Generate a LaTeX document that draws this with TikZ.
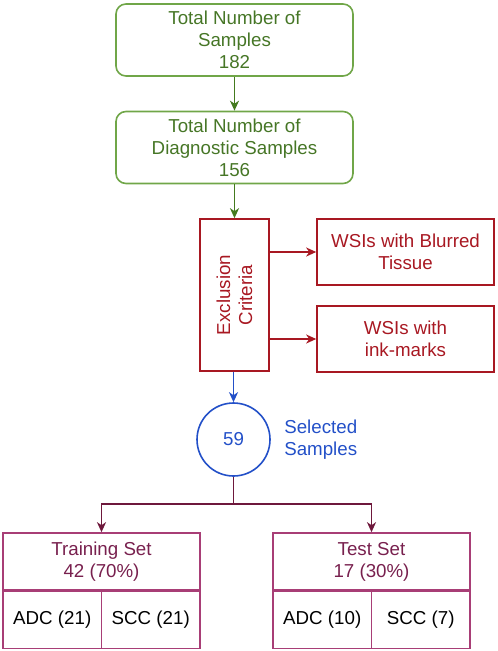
\documentclass[tikz,border=0pt]{standalone}
\usepackage{fontspec}
\setmainfont{Liberation Sans}
\usetikzlibrary{arrows.meta,positioning,calc}
\definecolor{samplegreen}{RGB}{112,166,72}
\definecolor{textgreen}{RGB}{70,118,38}
\definecolor{arrowgreen}{RGB}{68,122,30}
\definecolor{exred}{RGB}{168,24,34}
\definecolor{selblue}{RGB}{35,80,200}
\definecolor{setrose}{RGB}{168,62,118}
\definecolor{settext}{RGB}{120,32,78}
\definecolor{setline}{RGB}{110,24,60}

\tikzset{
  bigfont/.style={font=\fontsize{18.8}{22}\selectfont},
  countbox/.style={draw=samplegreen, rounded corners=10bp, line width=1.6bp, text=textgreen,
    minimum width=237bp, minimum height=72bp, inner sep=0pt, align=center, bigfont},
  exbox/.style={draw=exred, line width=1.6bp, text=exred, inner sep=0pt, align=center, bigfont},
  setbox/.style={draw=setrose, line width=1.6bp, text=settext, inner sep=0pt, align=center,
    minimum width=197bp, minimum height=57bp, bigfont},
  cellbox/.style={draw=setrose, line width=1.6bp, text=black, inner sep=0pt, align=center,
    minimum width=98.5bp, minimum height=57bp, bigfont},
  tip/.style={-{Stealth[length=10bp,width=9bp,inset=3bp]}, line width=1.6bp}
}

\begin{document}
\begin{tikzpicture}[x=1bp,y=-1bp]
\useasboundingbox (0,0) rectangle (498,651);
% samples
\node[countbox] (total) at (234.5,40) {Total Number of\\Samples\\182};
\node[countbox] (diag) at (234.5,147.5) {Total Number of\\Diagnostic Samples\\156};
% exclusion
\node[exbox, minimum width=69bp, minimum height=152bp] (excl) at (234.5,295) {};
\node[exbox, draw=none, rotate=90] (excltext) at (excl.center) {Exclusion\\Criteria};
\node[exbox, minimum width=177bp, minimum height=66bp] (blur) at (405.5,252) {WSIs with Blurred\\Tissue};
\node[exbox, minimum width=177bp, minimum height=66bp] (ink) at (405.5,339) {WSIs with\\ink-marks};
% selected
\node[circle, draw=selblue, line width=1.6bp, text=selblue, minimum size=73bp, inner sep=0pt, bigfont] (sel) at (233.5,439.5) {59};
\node[text=selblue, align=left, bigfont, right=10bp of sel] (seltext) {Selected\\Samples};
% sets
\node[setbox] (train) at (101.5,561.5) {Training Set\\42 (70\%)};
\node[cellbox, below right=0pt of train.south west] (trainadc) {ADC (21)};
\node[cellbox, below left=0pt of train.south east] (trainscc) {SCC (21)};
\node[setbox] (test) at (371.5,561.5) {Test Set\\17 (30\%)};
\node[cellbox, below right=0pt of test.south west] (testadc) {ADC (10)};
\node[cellbox, below left=0pt of test.south east] (testscc) {SCC (7)};
\coordinate (split) at (233.5,504);

\draw[tip, arrowgreen] (total) -- (diag);
\draw[tip, arrowgreen] (diag.south) -- (diag.south |- excl.north);
\draw[tip, exred] (excl.east |- blur) -- (blur.west);
\draw[tip, exred] (excl.east |- ink) -- (ink.west);
\draw[tip, selblue] (excl.south -| sel) -- (sel.north);
\draw[line width=1.6bp, setline] (sel.south) -- (split);
\draw[tip, setline] (split) -| (train.north);
\draw[tip, setline] (split) -| (test.north);
\end{tikzpicture}
\end{document}
